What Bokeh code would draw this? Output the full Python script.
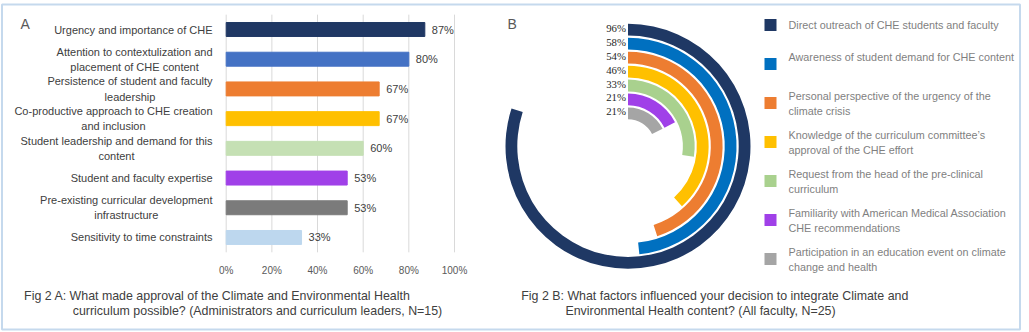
import math
from bokeh.plotting import figure
from bokeh.models import Range1d, LinearAxis, FixedTicker, NumeralTickFormatter
from bokeh.core.properties import value
from bokeh.embed import file_html
from bokeh.resources import INLINE

# ---------------- data ----------------
bar_categories = [
    "Urgency and importance of CHE",
    "Attention to contextulization and\nplacement of CHE content",
    "Persistence of student and faculty\nleadership",
    "Co-productive approach to CHE creation\nand inclusion",
    "Student leadership and demand for this\ncontent",
    "Student and faculty expertise",
    "Pre-existing curricular development\ninfrastructure",
    "Sensitivity to time constraints",
]
bar_values = [0.87, 0.80, 0.67, 0.67, 0.60, 0.53, 0.53, 0.33]
bar_colors = ["#203864", "#4472c4", "#ed7d31", "#ffc000", "#c5e0b4", "#a040e8", "#7b7b7b", "#bdd7ee"]
x_ticks = [0, 0.2, 0.4, 0.6, 0.8, 1.0]

radial_factors = [
    "Direct outreach of CHE students and faculty",
    "Awareness of student demand for CHE content",
    "Personal perspective of the urgency of the\nclimate crisis",
    "Knowledge of the curriculum committee\u2019s\napproval of the CHE effort",
    "Request from the head of the pre-clinical\ncurriculum",
    "Familiarity with American Medical Association\nCHE recommendations",
    "Participation in an education event on climate\nchange and health",
]
radial_values = [0.96, 0.58, 0.54, 0.46, 0.33, 0.21, 0.21]
radial_colors = ["#1f3864", "#0070c0", "#ed7d31", "#ffc000", "#a9d18e", "#a040e8", "#a5a5a5"]
radial_scale_max = 1.2

caption_a = ["Fig 2 A:  What made approval of the Climate and Environmental Health",
             "curriculum possible? (Administrators and curriculum leaders, N=15)"]
caption_b = ["Fig 2 B:  What factors influenced your decision to integrate Climate and",
             "Environmental Health content? (All faculty, N=25)"]

# ---------------- helpers ----------------
_AW = {' ': 278, '-': 333, '%': 889, '?': 556, '(': 333, ')': 333, ',': 278, '=': 584, ':': 278, '\u2019': 222}
for ch in "0123456789":
    _AW[ch] = 556
_AW.update(dict(zip("abcdefghijklmnopqrstuvwxyz",
    [556, 556, 500, 556, 556, 278, 556, 556, 222, 222, 500, 222, 833, 556, 556, 556, 556, 333, 500, 278, 556, 500, 722, 500, 500, 500])))
_AW.update(dict(zip("ABCDEFGHIJKLMNOPQRSTUVWXYZ",
    [667, 667, 722, 722, 667, 611, 778, 722, 278, 500, 667, 556, 833, 722, 778, 667, 778, 722, 667, 611, 722, 667, 944, 667, 667, 611])))


def text_w(s, size):
    return sum(_AW.get(c, 556) for c in s) * size / 1000.0


SANS = value("Liberation Sans")
SERIF = value("Liberation Serif")

W, H = 1029, 332
p = figure(width=W, height=H, x_range=Range1d(0, W), y_range=Range1d(H, 0),
           x_axis_type=None, y_axis_type=None, toolbar_location=None,
           output_backend="svg", min_border=0, outline_line_color=None,
           background_fill_color="white", border_fill_color="white")

# ---------- panel A: horizontal bars ----------
x0_px, px_per_unit = 225.7, 228.3
row0, pitch = 29.0, 29.71
p.extra_x_ranges = {"pct": Range1d(-x0_px / px_per_unit, (W - x0_px) / px_per_unit)}
p.extra_y_ranges = {"bar": Range1d((H - row0) / pitch, -row0 / pitch)}

idx = list(range(len(bar_values)))

p.segment(x0=x_ticks, x1=x_ticks, y0=[-0.5] * len(x_ticks), y1=[len(idx) - 0.5] * len(x_ticks),
          x_range_name="pct", y_range_name="bar", line_color="#d9d9d9", line_width=1)

p.hbar(y=idx, left=0, right=bar_values, height=0.47, color=bar_colors,
       x_range_name="pct", y_range_name="bar")

p.text(x=bar_values, y=idx, text=[f"{round(v * 100)}%" for v in bar_values],
       x_range_name="pct", y_range_name="bar", x_offset=7,
       text_font=SANS, text_font_size="11px", text_color="#404040",
       text_align="left", text_baseline="middle")

ax = LinearAxis(x_range_name="pct", fixed_location=252,
                ticker=FixedTicker(ticks=x_ticks),
                formatter=NumeralTickFormatter(format="0%"))
ax.axis_line_color = None
ax.major_tick_line_color = None
ax.minor_tick_line_color = None
ax.major_label_standoff = 6
ax.major_label_text_font = "Liberation Sans"
ax.major_label_text_font_size = "10px"
ax.major_label_text_color = "#595959"
p.add_layout(ax, "below")

# category labels: block right-aligned, lines centred within the block
lab_fs = 11
lab_right = 212
lab_x = [lab_right - max(text_w(s, lab_fs) for s in c.split("\n")) / 2 for c in bar_categories]
p.text(x=lab_x, y=idx, text=bar_categories, y_range_name="bar",
       text_font=SANS, text_font_size=f"{lab_fs}px", text_color="#404040",
       text_align="center", text_baseline="middle", text_line_height=1.28)

# ---------- panel B: radial bars ----------
cx, cy = 627.5, 145.8
r_out0, r_step, r_thick = 122.5, 13.95, 11.8
outer = [r_out0 - k * r_step for k in range(len(radial_values))]
inner = [r - r_thick for r in outer]
ends = [math.pi / 2 - v / radial_scale_max * 2 * math.pi for v in radial_values]
p.annular_wedge(x=cx, y=cy, inner_radius=inner, outer_radius=outer,
                start_angle=math.pi / 2, end_angle=ends, direction="clock",
                fill_color=radial_colors, line_color=None)

p.text(x=[cx - 2] * len(radial_values), y=[cy - (o + i) / 2 - 2 for o, i in zip(outer, inner)],
       text=[f"{round(v * 100)}%" for v in radial_values],
       text_font=SERIF, text_font_size="10.8px", text_color="#262626",
       text_align="right", text_baseline="middle")

# legend
leg_sq_x, leg_txt_x = 770, 788
sq_y = [24.5 + 39 * k for k in range(len(radial_factors))]
p.scatter(x=[leg_sq_x] * len(sq_y), y=sq_y, marker="square", size=12,
          fill_color=radial_colors, line_color=None)
txt_y = [(y - 6.5) if k == 0 else (y - 13) for k, y in enumerate(sq_y)]
p.text(x=[leg_txt_x] * len(sq_y), y=txt_y, text=radial_factors,
       text_font=SANS, text_font_size="10.8px", text_color="#7f7f7f",
       text_align="left", text_baseline="top", text_line_height=1.25)

# ---------- panel letters, captions, border ----------
p.text(x=[20, 507], y=[23, 23], text=["A", "B"], text_font=SANS, text_font_size="14px",
       text_color="#595959", text_align="left", text_baseline="middle")

cap_fs = 390 / text_w(caption_a[0], 1.0)
p.text(x=[218.5, 257, 716, 700], y=[295, 310, 295, 310],
       text=caption_a + caption_b, text_font=SANS, text_font_size=f"{cap_fs:.1f}px",
       text_color="#404040", text_align="center", text_baseline="middle")

p.quad(left=1.5, right=1019.5, top=4, bottom=329, fill_color=None,
       line_color="#c5d9ed", line_width=2)

open("out.html", "w").write(file_html(p, INLINE))
